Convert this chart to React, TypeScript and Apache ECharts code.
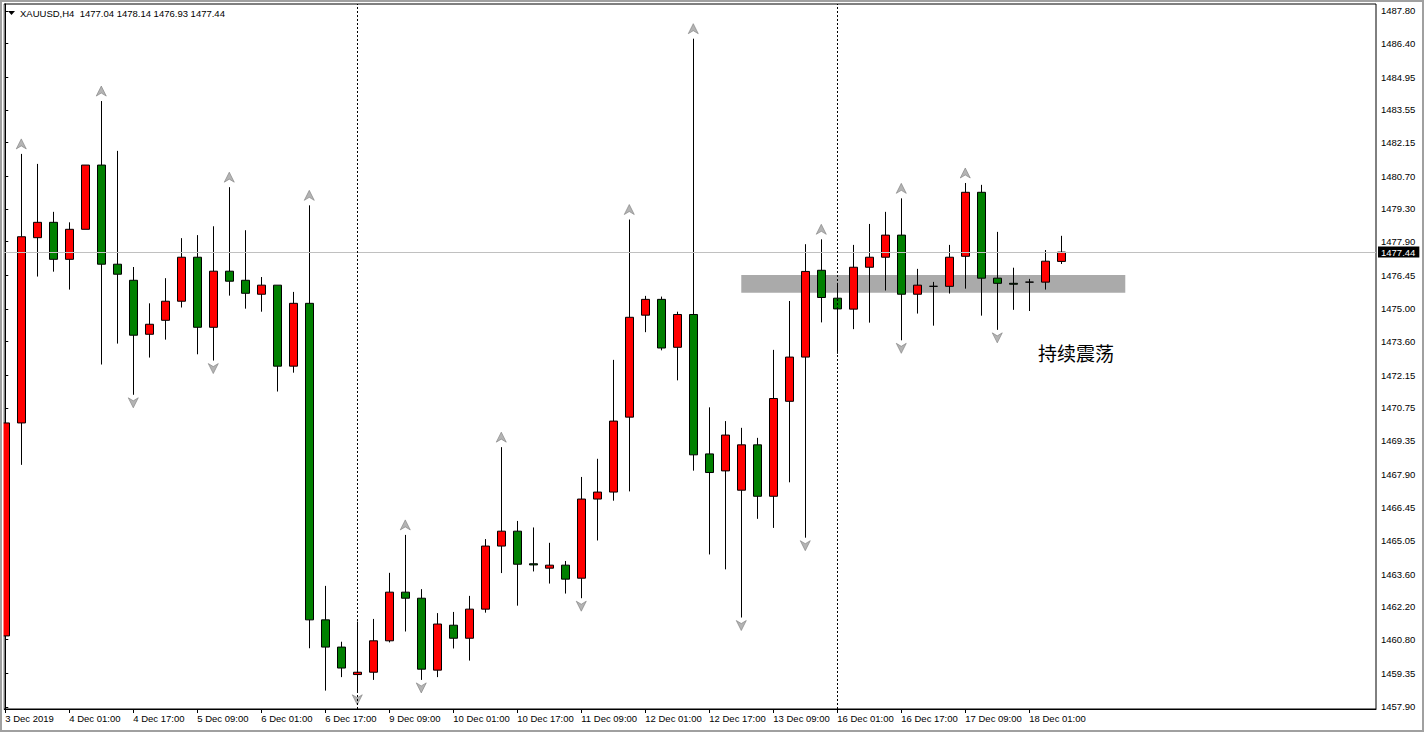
import React, { useEffect, useRef } from 'react';
import * as echarts from 'echarts';

// Candle data (H4 XAUUSD), index 0 = 3 Dec 2019 09:00
const opens = [1460.95, 1470.10, 1478.06, 1478.72, 1477.13, 1478.42, 1481.18, 1476.92, 1476.23, 1473.91,
  1474.51, 1475.33, 1477.22, 1474.21, 1476.62, 1476.23, 1475.63, 1476.02, 1472.54, 1475.24,
  1461.64, 1460.47, 1459.29, 1459.39, 1460.74, 1462.83, 1462.57, 1459.48, 1461.41, 1460.85,
  1462.10, 1464.81, 1465.45, 1464.05, 1463.86, 1463.99, 1463.43, 1466.83, 1467.13, 1470.35,
  1474.73, 1475.41, 1473.35, 1474.76, 1468.77, 1468.04, 1467.21, 1469.16, 1466.95, 1471.03,
  1472.93, 1476.66, 1475.46, 1474.99, 1476.79, 1477.22, 1478.17, 1475.63, 1475.97, 1475.97,
  1477.26, 1480.01, 1476.32, 1476.10, 1476.15, 1476.15, 1477.04];
const closes = [1470.10, 1478.10, 1478.72, 1477.13, 1478.42, 1481.18, 1476.92, 1476.49, 1473.87, 1474.34,
  1475.33, 1477.22, 1474.21, 1476.62, 1476.19, 1475.67, 1476.02, 1472.54, 1475.24, 1461.64,
  1460.47, 1459.57, 1459.39, 1460.74, 1462.83, 1462.57, 1459.52, 1461.46, 1460.85, 1462.10,
  1464.81, 1465.45, 1464.03, 1464.00, 1463.99, 1463.39, 1466.83, 1467.13, 1470.18, 1474.64,
  1475.41, 1473.32, 1474.76, 1468.73, 1467.97, 1469.58, 1469.16, 1466.95, 1471.15, 1472.93,
  1476.61, 1475.49, 1475.00, 1476.79, 1477.22, 1478.17, 1475.63, 1476.02, 1475.97, 1477.22,
  1480.01, 1476.32, 1476.10, 1476.06, 1476.15, 1477.05, 1477.44];
const lows = [1460.61, 1468.30, 1476.39, 1476.60, 1475.83, 1478.42, 1472.61, 1473.51, 1471.31, 1472.91,
  1473.68, 1475.06, 1473.05, 1472.78, 1475.57, 1475.01, 1474.88, 1471.45, 1472.26, 1460.42,
  1458.60, 1459.18, 1458.55, 1459.06, 1460.67, 1461.14, 1459.06, 1459.18, 1460.41, 1459.89,
  1461.95, 1463.65, 1462.25, 1463.72, 1463.20, 1462.77, 1462.57, 1465.05, 1466.76, 1467.16,
  1474.00, 1473.22, 1471.93, 1468.05, 1464.45, 1463.81, 1461.74, 1465.98, 1465.59, 1467.55,
  1465.17, 1474.42, 1473.07, 1474.13, 1474.41, 1475.79, 1473.65, 1474.80, 1474.28, 1475.66,
  1475.87, 1474.71, 1474.10, 1474.96, 1474.91, 1475.83, 1476.93];
const highs = [1470.75, 1481.66, 1481.23, 1479.17, 1478.72, 1481.18, 1483.93, 1481.79, 1476.80, 1475.24,
  1476.32, 1478.04, 1478.17, 1478.55, 1480.23, 1478.38, 1476.37, 1476.02, 1475.73, 1479.45,
  1463.10, 1460.70, 1461.57, 1461.68, 1463.66, 1465.29, 1462.96, 1461.93, 1461.98, 1462.67,
  1465.11, 1469.06, 1465.89, 1465.61, 1464.95, 1464.17, 1467.78, 1468.56, 1472.81, 1478.84,
  1475.56, 1475.53, 1474.88, 1486.61, 1470.77, 1470.18, 1469.89, 1469.46, 1473.24, 1475.34,
  1477.78, 1477.99, 1476.12, 1477.75, 1478.65, 1479.17, 1479.75, 1476.72, 1476.16, 1477.75,
  1480.41, 1480.33, 1478.31, 1476.77, 1476.29, 1477.53, 1478.14];

const xTickIdx = [0, 4, 8, 12, 16, 20, 24, 28, 32, 36, 40, 44, 48, 52, 56, 60, 64];
const xTickLabels = ['3 Dec 2019', '4 Dec 01:00', '4 Dec 17:00', '5 Dec 09:00', '6 Dec 01:00', '6 Dec 17:00',
  '9 Dec 09:00', '10 Dec 01:00', '10 Dec 17:00', '11 Dec 09:00', '12 Dec 01:00', '12 Dec 17:00',
  '13 Dec 09:00', '16 Dec 01:00', '16 Dec 17:00', '17 Dec 09:00', '18 Dec 01:00'];
const yTicks = [1457.90, 1459.35, 1460.80, 1462.20, 1463.60, 1465.05, 1466.45, 1467.90, 1469.35, 1470.75,
  1472.15, 1473.60, 1475.00, 1476.45, 1477.90, 1479.30, 1480.70, 1482.15, 1483.55, 1484.95, 1486.40, 1487.80];

const fractalUp = [1, 6, 14, 19, 25, 31, 39, 43, 51, 56, 60];
const fractalDown = [8, 13, 22, 26, 36, 46, 50, 56, 62];
const weekSeparators = [22, 52];
const lastPrice = 1477.44;
const zoneX = [46, 70];
const zoneY = [1475.69, 1476.46];
const headerText = 'XAUUSD,H4  1477.04 1478.14 1476.93 1477.44';
const noteText = '持续震荡';

const FONT = 'Liberation Sans, Arial, sans-serif';

export default function App() {
  const ref = useRef<HTMLDivElement>(null);
  useEffect(() => {
    const chart = echarts.init(ref.current as HTMLDivElement, null, { renderer: 'svg' });
    const candles = opens.map((o, i) => [i, o, closes[i], lows[i], highs[i]]);
    const upPts = fractalUp.map((i) => [i, highs[i]]);
    const downPts = fractalDown.map((i) => [i, lows[i]]);
    const option: any = {
      animation: false,
      backgroundColor: '#fff',
      grid: { left: 4, right: 48, top: 4, bottom: 23, show: true, borderColor: '#000', borderWidth: 1, backgroundColor: '#fff' },
      xAxis: {
        type: 'value', min: -0.08, max: 85.67,
        axisLine: { show: true, onZero: false, lineStyle: { color: '#000', width: 1 } },
        axisTick: { show: true, customValues: xTickIdx, length: 4, lineStyle: { color: '#000' } },
        axisLabel: {
          show: true, customValues: xTickIdx, margin: 4, align: 'left', padding: [0, 0, 0, 0],
          color: '#000', fontSize: 9.5, fontFamily: FONT,
          formatter: (v: number) => xTickLabels[xTickIdx.indexOf(Math.round(v))] || '',
        },
        splitLine: { show: false },
      },
      yAxis: {
        type: 'value', position: 'right', min: 1457.81, max: 1488.10, scale: true,
        axisLine: { show: true, lineStyle: { color: '#000', width: 1 } },
        axisTick: { show: true, customValues: yTicks, length: 3, lineStyle: { color: '#000' } },
        axisLabel: {
          show: true, customValues: yTicks, margin: 5, color: '#000', fontSize: 9.5, fontFamily: FONT,
          formatter: (v: number) => v.toFixed(2),
        },
        splitLine: { show: false },
      },
      series: [
        {
          type: 'line', data: [], silent: true, z: 1,
          markLine: {
            silent: true, symbol: ['none', 'none'], animation: false,
            data: [
              {
                yAxis: lastPrice,
                lineStyle: { color: '#c0c0c0', type: 'solid', width: 1 },
                label: {
                  show: true, position: 'end', distance: 2, formatter: lastPrice.toFixed(2),
                  color: '#fff', backgroundColor: '#000', padding: [1, 4, 0, 3], fontSize: 9.5, fontFamily: FONT,
                },
              },
              ...weekSeparators.map((x) => ({
                xAxis: x,
                lineStyle: { color: '#000', type: [2, 2], width: 1 },
                label: { show: false },
              })),
            ],
          },
          markArea: {
            silent: true,
            itemStyle: { color: '#aaaaaa', opacity: 1 },
            data: [[{ xAxis: zoneX[0], yAxis: zoneY[1] }, { xAxis: zoneX[1], yAxis: zoneY[0] }]],
          },
        },
        {
          type: 'candlestick', data: candles, encode: { x: 0, y: [1, 2, 3, 4] }, barWidth: 9, z: 3,
          clip: true,
          itemStyle: {
            color: '#ff0000', color0: '#008000', borderColor: '#000', borderColor0: '#000',
            borderColorDoji: '#000', borderWidth: 1,
          },
        },
        {
          type: 'scatter', data: upPts, z: 4, silent: true,
          symbol: 'path://M5,0L10,10L5,7L0,10Z', symbolSize: [10, 10], symbolOffset: [0, -10],
          itemStyle: { color: '#b4b4b4', borderColor: '#7a7a7a', borderWidth: 0.6, opacity: 1 },
        },
        {
          type: 'scatter', data: downPts, z: 4, silent: true,
          symbol: 'path://M0,0L5,3L10,0L5,10Z', symbolSize: [10, 10], symbolOffset: [0, 8],
          itemStyle: { color: '#b4b4b4', borderColor: '#7a7a7a', borderWidth: 0.6, opacity: 1 },
        },
      ],
      graphic: [
        { type: 'rect', shape: { x: 0, y: 0, width: 3.5, height: 732 }, style: { fill: '#fff' }, silent: true, z: 99 },
        { type: 'rect', shape: { x: 1, y: 1, width: 1422, height: 730 }, style: { fill: 'none', stroke: '#a0a0a0', lineWidth: 2 }, silent: true, z: 100 },
        { type: 'polygon', shape: { points: [[8, 11], [15, 11], [11.5, 15]] }, style: { fill: '#000' }, silent: true, z: 100 },
        { type: 'text', x: 20, y: 13, style: { text: headerText, fill: '#000', font: `9.5px ${FONT}`, verticalAlign: 'middle' }, silent: true, z: 100 },
        { type: 'text', x: 1038, y: 352.5, style: { text: noteText, fill: '#000', fontSize: 19, fontFamily: 'Noto Sans CJK SC', verticalAlign: 'middle' }, silent: true, z: 100 },
      ],
    };
    chart.setOption(option);
    return () => chart.dispose();
  }, []);
  return <div ref={ref} style={{ position: 'fixed', left: 0, top: 0, width: 1424, height: 732, background: '#fff' }} />;
}
